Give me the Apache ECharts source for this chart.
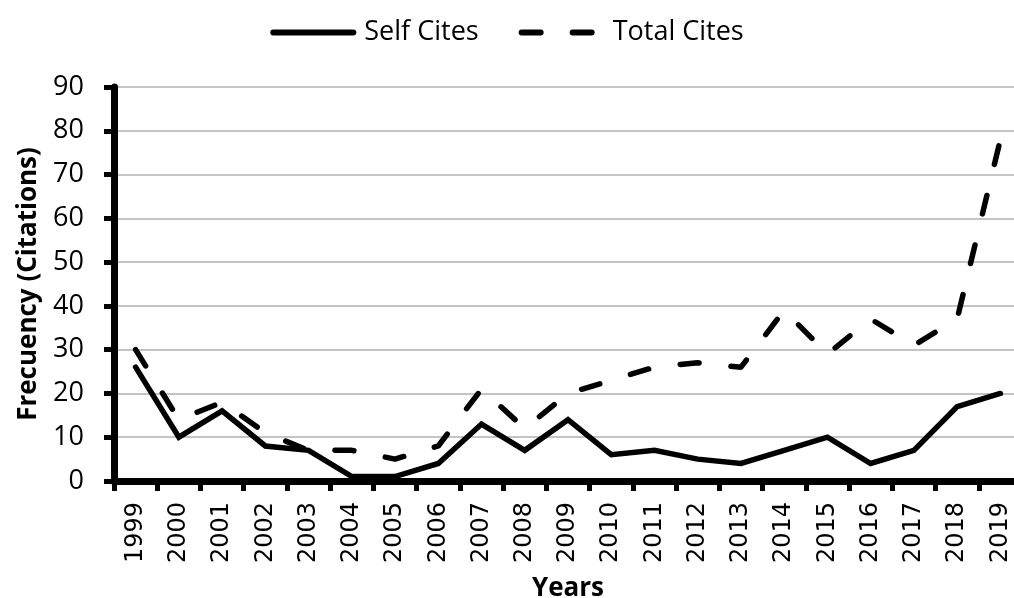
<!DOCTYPE html>
<html>
<head>
<meta charset="utf-8">
<script src="https://cdn.jsdelivr.net/npm/echarts@6/dist/echarts.min.js"></script>
<style>
html,body{margin:0;padding:0;background:#fff;}
#main{width:1014px;height:598px;}
</style>
</head>
<body>
<div id="main"></div>
<script>
var years = ['1999','2000','2001','2002','2003','2004','2005','2006','2007','2008','2009','2010','2011','2012','2013','2014','2015','2016','2017','2018','2019'];
var selfCites = [26,10,16,8,7,1,1,4,13,7,14,6,7,5,4,7,10,4,7,17,20];
var totalCites = [30,14,18,11,7,7,5,8,21,12,20,23,26,27,26,39,29,37,31,37,78];
var yTicks = {min:0, max:90, interval:10};

var chart = echarts.init(document.getElementById('main'), null, {renderer:'canvas'});
var FONT = "'Open Sans', 'Noto Sans', sans-serif";
chart.setOption({
  animation:false,
  backgroundColor:'#ffffff',
  legend:{
    top:14, left:'center',
    itemWidth:80, itemHeight:28, itemGap:40,
    itemStyle:{opacity:0, borderWidth:0},
    lineStyle:{width:6},
    textStyle:{fontFamily:FONT, fontSize:27, color:'#000', padding:[0,0,0,6]},
    data:['Self Cites','Total Cites']
  },
  grid:{left:114, top:87, width:908, height:394, containLabel:false, outerBoundsMode:'none'},
  xAxis:{
    type:'category', data:years, boundaryGap:true,
    name:'Years', nameLocation:'middle', nameGap:95,
    nameTextStyle:{fontFamily:FONT, fontSize:26, fontWeight:'bold', color:'#000'},
    axisLine:{lineStyle:{color:'#000', width:7}},
    axisTick:{show:true, length:10, lineStyle:{color:'#000', width:5}},
    axisLabel:{rotate:90, margin:21, fontFamily:"'DejaVu Sans', sans-serif", fontSize:24, color:'#000', interval:0},
    splitLine:{show:false}
  },
  yAxis:{
    type:'value', min:yTicks.min, max:yTicks.max, interval:yTicks.interval,
    name:'Frecuency (Citations)', nameLocation:'middle', nameGap:72,
    nameTextStyle:{fontFamily:FONT, fontSize:26, fontWeight:'bold', color:'#000'},
    axisLine:{show:true, lineStyle:{color:'#000', width:7}},
    axisTick:{show:true, length:10, lineStyle:{color:'#000', width:5}},
    axisLabel:{margin:30, fontFamily:FONT, fontSize:27, color:'#000'},
    splitLine:{show:true, lineStyle:{color:'#c4c4c4', width:2}}
  },
  series:[
    {name:'Total Cites', type:'line', data:totalCites, symbol:'none', z:2,
     lineStyle:{color:'#000', width:5.5, type:[19,32], cap:'round', join:'round'},
     itemStyle:{color:'#000'}},
    {name:'Self Cites', type:'line', data:selfCites, symbol:'none', z:3,
     lineStyle:{color:'#000', width:5.5, type:'solid', cap:'round', join:'miter'},
     itemStyle:{color:'#000'}}
  ]
});
</script>
</body>
</html>
